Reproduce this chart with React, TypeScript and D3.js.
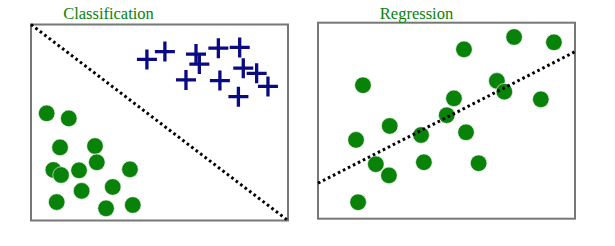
import React from "react";
import * as d3 from "d3";

// Classification panel: two classes of samples
const classCircles: [number, number][] = [
  [0.61, 5.47], [1.47, 5.21], [1.13, 3.73], [2.49, 3.8], [2.56, 2.97],
  [0.87, 2.58], [1.17, 2.32], [1.87, 2.56], [3.85, 2.61], [1.97, 1.51],
  [3.18, 1.71], [1.0, 0.94], [2.92, 0.62], [3.96, 0.79],
];
const classCrosses: [number, number][] = [
  [4.51, 8.22], [5.21, 8.62], [6.42, 8.49], [6.55, 7.98], [7.29, 8.79],
  [8.12, 8.83], [6.03, 7.17], [7.35, 7.14], [8.26, 7.77], [8.78, 7.51],
  [9.22, 6.84], [8.07, 6.32],
];
// decision boundary endpoints
const boundary: [number, number][] = [[0, 10], [10, 0]];

// Regression panel: samples and fitted line
const regPoints: [number, number][] = [
  [1.75, 6.81], [5.68, 8.64], [7.63, 9.27], [9.18, 9.0], [6.96, 7.03],
  [7.25, 6.48], [8.67, 6.09], [5.29, 6.14], [5.01, 5.28], [2.79, 4.73],
  [4.01, 4.27], [5.76, 4.41], [1.48, 4.02], [2.25, 2.78], [2.76, 2.21],
  [4.12, 2.88], [6.25, 2.83], [1.56, 0.84],
];
const fitIntercept = 1.81;
const fitSlope = 0.671;

const titles = ["Classification", "Regression"];

const GREEN = "#088208";
const NAVY = "#0a0a82";
const FRAME = "#777777";

export default function App() {
  const W = 615, H = 246;
  const panels = [
    { x0: 31, x1: 288, y0: 24.5, y1: 220.5 },
    { x0: 318, x1: 575, y0: 22.7, y1: 218.7 },
  ];
  const scales = panels.map((p) => ({
    x: d3.scaleLinear().domain([0, 10]).range([p.x0, p.x1]),
    y: d3.scaleLinear().domain([0, 10]).range([p.y1, p.y0]),
  }));
  const line = (s: typeof scales[0]) =>
    d3.line<[number, number]>().x((d) => s.x(d[0])).y((d) => s.y(d[1]));

  const s0 = scales[0], s1 = scales[1];
  const fitLine: [number, number][] = [0, 10].map((x) => [x, fitIntercept + fitSlope * x]);
  const arm = 10;

  return (
    <svg width={W} height={H} style={{ position: "absolute", left: 0, top: 0, background: "#fff" }}>
      {panels.map((p, i) => (
        <g key={i}>
          <rect x={p.x0} y={p.y0} width={p.x1 - p.x0} height={p.y1 - p.y0}
            fill="none" stroke={FRAME} strokeWidth={2} />
          <text x={i === 0 ? 108.5 : 416.5} y={18.5} textAnchor="middle"
            fontFamily="'Liberation Serif', serif" fontSize={16.5} fill={GREEN}>
            {titles[i]}
          </text>
        </g>
      ))}

      {/* classification */}
      {classCircles.map((d, i) => (
        <circle key={"c" + i} cx={s0.x(d[0])} cy={s0.y(d[1])} r={8.3} fill={GREEN}
          stroke="#fff" strokeWidth={0.6} />
      ))}
      {classCrosses.map((d, i) => {
        const cx = s0.x(d[0]), cy = s0.y(d[1]);
        return (
          <path key={"x" + i}
            d={`M${cx - arm},${cy}H${cx + arm}M${cx},${cy - arm}V${cy + arm}`}
            stroke={NAVY} strokeWidth={3.3} fill="none" />
        );
      })}
      <path d={line(s0)(boundary) ?? ""} stroke="#000" strokeWidth={3}
        strokeDasharray="2.6 3" fill="none" />

      {/* regression */}
      {regPoints.map((d, i) => (
        <circle key={"r" + i} cx={s1.x(d[0])} cy={s1.y(d[1])} r={8.3} fill={GREEN}
          stroke="#fff" strokeWidth={0.6} />
      ))}
      <path d={line(s1)(fitLine) ?? ""} stroke="#000" strokeWidth={3}
        strokeDasharray="2.6 3" fill="none" />
    </svg>
  );
}
